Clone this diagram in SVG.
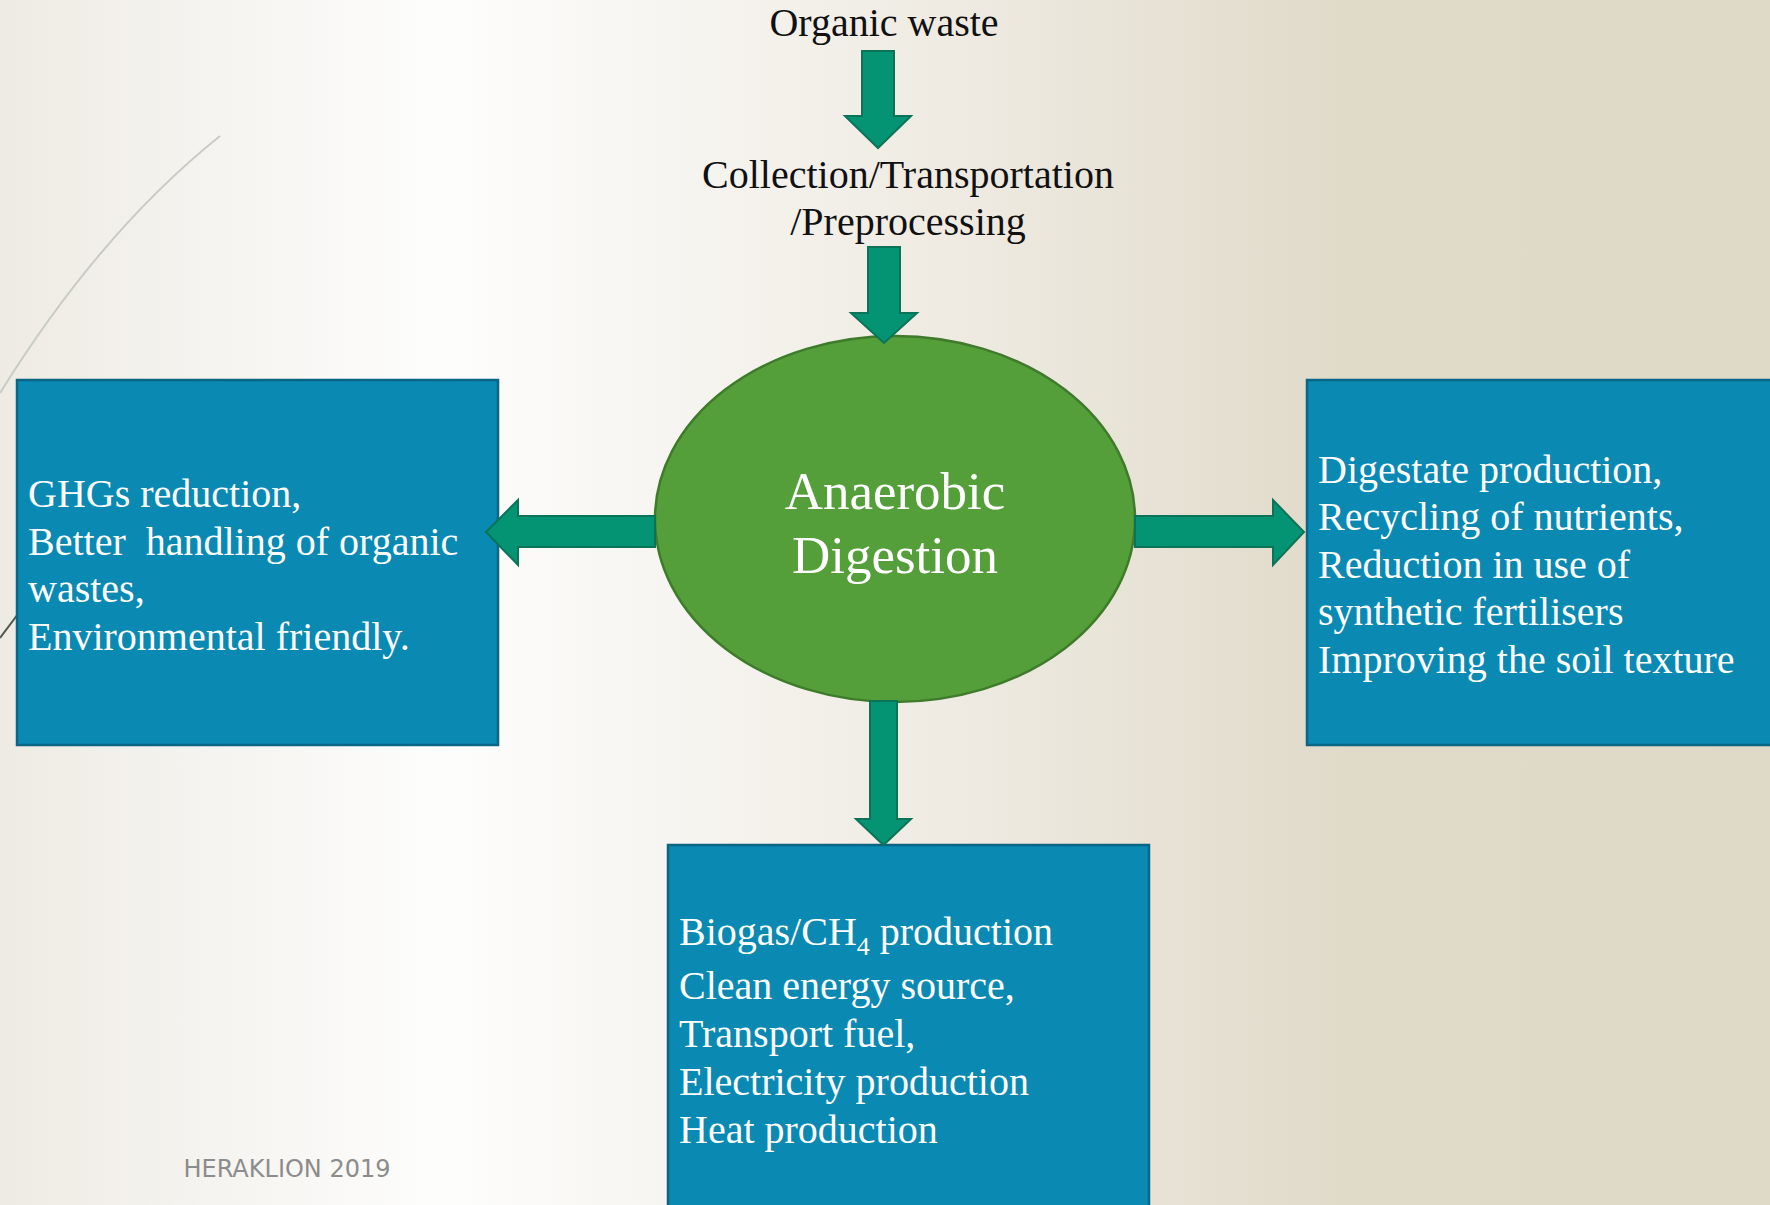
<svg xmlns="http://www.w3.org/2000/svg" width="1770" height="1205" viewBox="0 0 1770 1205">
<defs>
<linearGradient id="bg" x1="0" y1="0" x2="1" y2="0">
<stop offset="0" stop-color="#eeebe4"/>
<stop offset="0.25" stop-color="#fdfdfc"/>
<stop offset="0.55" stop-color="#eeeae1"/>
<stop offset="0.76" stop-color="#e0dac9"/>
<stop offset="1" stop-color="#dfd9c8"/>
</linearGradient>
<style>
.box{fill:#0a89b3;stroke:#0b6584;stroke-width:2.5}
.arrow{fill:#049474;stroke:#0b7458;stroke-width:2}
.wt{font-family:"Liberation Serif",serif;font-size:40px;fill:#ffffff}
.bt{font-family:"Liberation Serif",serif;font-size:40px;fill:#111111;text-anchor:middle}
</style>
</defs>
<rect x="0" y="0" width="1770" height="1205" fill="url(#bg)"/>
<path d="M220 136 Q100 232 0 393" fill="none" stroke="#c9ccc5" stroke-width="2"/>
<path d="M0 638 L24 606" fill="none" stroke="#4d5a4d" stroke-width="2"/>
<text x="287" y="1177" font-family="DejaVu Sans, sans-serif" font-size="24" fill="#8c8c8c" text-anchor="middle">HERAKLION 2019</text>

<g id="organic-waste">
<text class="bt" x="884" y="36">Organic waste</text>
</g>
<g id="collection">
<text class="bt" x="908" y="188">Collection/Transportation</text>
<text class="bt" x="908" y="235">/Preprocessing</text>
</g>

<g id="anaerobic-digestion">
<ellipse cx="895" cy="519" rx="240" ry="183" fill="#559f3b" stroke="#3e7b2b" stroke-width="2.5"/>
<text x="895" y="509" font-family="Liberation Serif, serif" font-size="53" fill="#ffffff" text-anchor="middle">Anaerobic</text>
<text x="895" y="573" font-family="Liberation Serif, serif" font-size="53" fill="#ffffff" text-anchor="middle">Digestion</text>
</g>

<g id="left-box">
<rect class="box" x="17" y="380" width="481" height="365"/>
<text class="wt" x="28" y="507">GHGs reduction,</text>
<text class="wt" x="28" y="554.5" xml:space="preserve">Better  handling of organic</text>
<text class="wt" x="28" y="602">wastes,</text>
<text class="wt" x="28" y="649.5">Environmental friendly.</text>
</g>

<g id="right-box">
<rect class="box" x="1307" y="380" width="475" height="365"/>
<text class="wt" x="1318" y="483">Digestate production,</text>
<text class="wt" x="1318" y="530">Recycling of nutrients,</text>
<text class="wt" x="1318" y="577.5">Reduction in use of</text>
<text class="wt" x="1318" y="625">synthetic fertilisers</text>
<text class="wt" x="1318" y="673">Improving the soil texture</text>
</g>

<g id="bottom-box">
<rect class="box" x="668" y="845" width="481" height="380"/>
<text class="wt" x="679" y="945">Biogas/CH<tspan font-size="26" dy="10">4</tspan><tspan dy="-10"> production</tspan></text>
<text class="wt" x="679" y="999">Clean energy source,</text>
<text class="wt" x="679" y="1047">Transport fuel,</text>
<text class="wt" x="679" y="1095">Electricity production</text>
<text class="wt" x="679" y="1143">Heat production</text>
</g>

<g id="connectors">
<polygon class="arrow" points="862,51 894,51 894,116 911,116 878,148 845,116 862,116"/>
<polygon class="arrow" points="868,247 900,247 900,313 917,313 884,343 851,313 868,313"/>
<polygon class="arrow" points="655,516 518,516 518,500 486,532 518,565 518,547 655,547"/>
<polygon class="arrow" points="1135,516 1273,516 1273,500 1304,532 1273,565 1273,547 1135,547"/>
<polygon class="arrow" points="870,701 897,701 897,819 911,819 883.5,845 856,819 870,819"/>
</g>
</svg>
